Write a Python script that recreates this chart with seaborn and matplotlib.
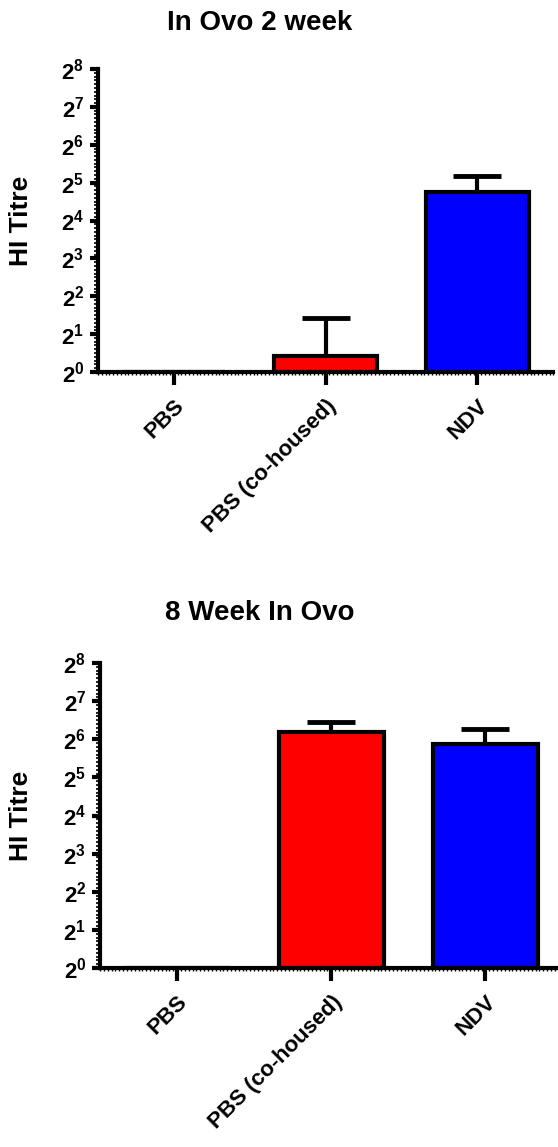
import matplotlib
matplotlib.use("Agg")
import matplotlib.pyplot as plt
from matplotlib.ticker import MultipleLocator
import seaborn as sns
import pandas as pd

# group names and colours
groups = ["PBS", "PBS (co-housed)", "NDV"]
bar_colors = ["white", "#ff0000", "#0000ff"]

# values are log2 HI titre (axis shows 2^0 .. 2^8)
week2_mean = [0.0, 0.42, 4.75]
week2_sem = [0.0, 1.0, 0.42]
week8_mean = [0.0, 6.18, 5.87]
week8_sem = [0.0, 0.26, 0.40]

titles = ["In Ovo 2 week", "8 Week In Ovo"]
ytick_vals = list(range(0, 9))
ytick_labels = [r"$\mathbf{2^{%d}}$" % i for i in ytick_vals]

sns.set_style("white")
plt.rcParams["font.family"] = ["Liberation Sans", "DejaVu Sans"]
plt.rcParams["mathtext.fontset"] = "custom"
plt.rcParams["mathtext.rm"] = "Liberation Sans"
plt.rcParams["mathtext.bf"] = "Liberation Sans:bold"
for key in ["text.color", "axes.labelcolor", "xtick.color", "ytick.color"]:
    plt.rcParams[key] = "black"

W, H = 558, 1147
fig = plt.figure(figsize=(W / 100, H / 100), dpi=100)
# [left, bottom, width, height] in figure fractions
positions = [[98 / W, 1 - 372 / H, 0.816, 303 / H],
             [100 / W, 1 - 968 / H, 0.829, 305 / H]]
title_y = [23, 613]

def draw_panel(ax, means, sems):
    df = pd.DataFrame({"group": groups, "titre": means})
    sns.barplot(data=df, x="group", y="titre", hue="group", palette=bar_colors,
                order=groups, errorbar=None, width=0.68, saturation=1,
                edgecolor="black", linewidth=3, legend=False, ax=ax, zorder=2)
    # upper error bars only (SEM)
    for i, (m, s) in enumerate(zip(means, sems)):
        if s > 0:
            ax.errorbar(i, m, yerr=[[0], [s]], fmt="none", ecolor="black",
                        elinewidth=3, capsize=17, capthick=3.5, zorder=1)
    ax.set_xlim(-0.5, 2.5)
    ax.set_ylim(0, 8)
    ax.set_yticks(ytick_vals)
    ax.set_yticklabels(ytick_labels, fontsize=16)
    ax.yaxis.set_minor_locator(MultipleLocator(0.1))
    ax.xaxis.set_minor_locator(MultipleLocator(0.025))
    ax.tick_params(axis="y", which="major", direction="out", length=6, width=3,
                   left=True, pad=4)
    ax.tick_params(axis="y", which="minor", direction="out", length=3, width=1.2,
                   left=True)
    ax.tick_params(axis="x", which="major", direction="out", length=9, width=3,
                   bottom=True, pad=8)
    ax.tick_params(axis="x", which="minor", direction="out", length=2, width=1,
                   bottom=True)
    ax.set_xticks(range(len(groups)))
    ax.set_xticklabels(groups, rotation=45, ha="right", rotation_mode="anchor",
                       fontsize=16, fontweight="bold")
    ax.set_xlabel("")
    ax.set_ylabel("HI Titre", fontsize=19, fontweight="bold")
    for side in ["top", "right"]:
        ax.spines[side].set_visible(False)
    for side in ["left", "bottom"]:
        ax.spines[side].set_linewidth(3)
        ax.spines[side].set_color("black")
        ax.spines[side].set_zorder(3)

all_means = [week2_mean, week8_mean]
all_sems = [week2_sem, week8_sem]
for k in range(2):
    ax = fig.add_axes(positions[k])
    draw_panel(ax, all_means[k], all_sems[k])
    # right edge of the rotated y label about 33 px from the figure's left edge
    ax_left_px = positions[k][0] * W
    ax_w_px = positions[k][2] * W
    ax.yaxis.set_label_coords((33 - ax_left_px) / ax_w_px, 0.5)
    fig.text(260 / W, 1 - title_y[k] / H, titles[k], ha="center", va="center",
             fontsize=20, fontweight="bold")

fig.savefig("out.png", dpi=100, facecolor="white")
